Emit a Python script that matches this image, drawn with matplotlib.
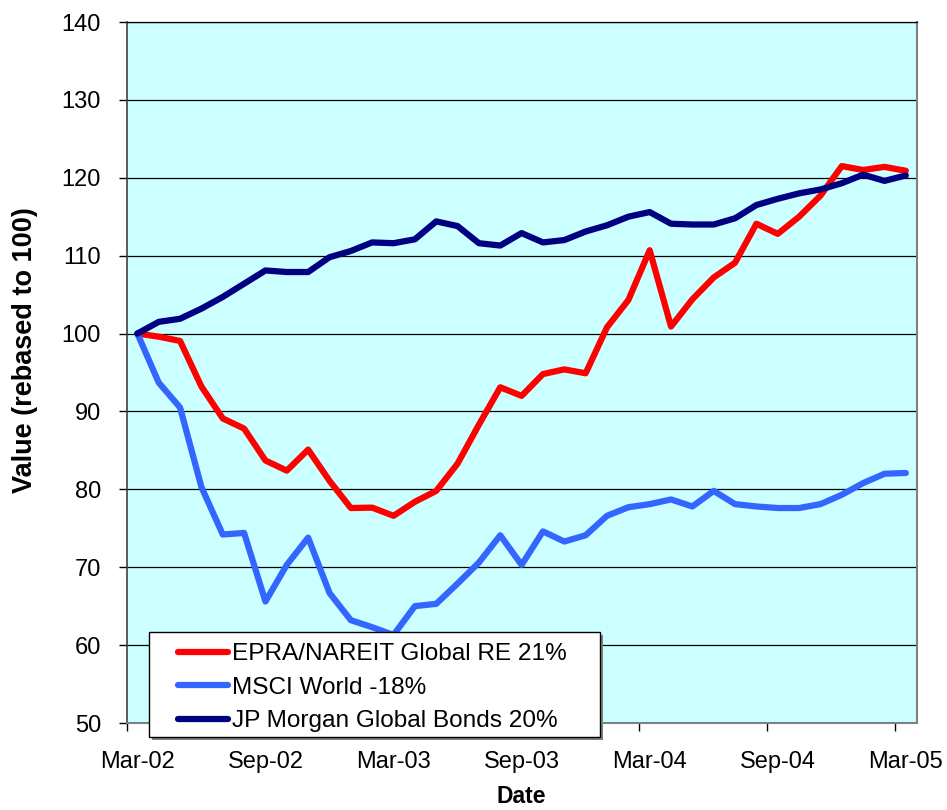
import matplotlib
matplotlib.use("Agg")
import matplotlib.pyplot as plt
from matplotlib.patches import Rectangle
import numpy as np

# ---- data ----
months = ["Mar-02", "Apr-02", "May-02", "Jun-02", "Jul-02", "Aug-02", "Sep-02", "Oct-02", "Nov-02",
          "Dec-02", "Jan-03", "Feb-03", "Mar-03", "Apr-03", "May-03", "Jun-03", "Jul-03", "Aug-03",
          "Sep-03", "Oct-03", "Nov-03", "Dec-03", "Jan-04", "Feb-04", "Mar-04", "Apr-04", "May-04",
          "Jun-04", "Jul-04", "Aug-04", "Sep-04", "Oct-04", "Nov-04", "Dec-04", "Jan-05", "Feb-05",
          "Mar-05"]
tick_labels = ["Mar-02", "Sep-02", "Mar-03", "Sep-03", "Mar-04", "Sep-04", "Mar-05"]

epra = [100, 99.6, 99.05, 93.2, 89.1, 87.8, 83.7, 82.4, 85.1, 81.1, 77.6, 77.65, 76.6,
        78.4, 79.8, 83.3, 88.3, 93.1, 92.0, 94.8, 95.4, 94.9, 100.8, 104.3, 110.7, 100.9,
        104.4, 107.2, 109.1, 114.1, 112.8, 115.0, 117.7, 121.5, 121.0, 121.4, 120.9]
msci = [100, 93.7, 90.5, 80.3, 74.2, 74.4, 65.6, 70.3, 73.8, 66.7, 63.2, 62.3, 61.3,
        65.0, 65.3, 67.9, 70.6, 74.1, 70.3, 74.6, 73.3, 74.1, 76.6, 77.7, 78.1, 78.7,
        77.8, 79.8, 78.1, 77.8, 77.6, 77.6, 78.1, 79.3, 80.8, 82.0, 82.1]
jpm = [100, 101.5, 101.9, 103.2, 104.7, 106.4, 108.1, 107.9, 107.9, 109.8, 110.6, 111.7, 111.6,
       112.1, 114.4, 113.8, 111.6, 111.3, 112.9, 111.7, 112.0, 113.1, 113.9, 115.0, 115.6, 114.1,
       114.0, 114.0, 114.8, 116.5, 117.3, 118.0, 118.5, 119.3, 120.4, 119.6, 120.3]

series_names = ["EPRA/NAREIT Global RE 21%", "MSCI World -18%", "JP Morgan Global Bonds 20%"]
series_colors = ["#FF0000", "#3366FF", "#000080"]

plt.rcParams['font.family'] = ['Liberation Sans', 'DejaVu Sans']

W, H = 947, 810
ax_l, ax_r, ax_t, ax_b = 126.7, 916.5, 22, 723
fig = plt.figure(figsize=(W / 100, H / 100), dpi=100)
ax = fig.add_axes([ax_l / W, 1 - ax_b / H, (ax_r - ax_l) / W, (ax_b - ax_t) / H])
ax.set_facecolor("#CCFFFF")

x = np.arange(len(months))
lines = []
for vals, name, col in zip([epra, msci, jpm], series_names, series_colors):
    ln, = ax.plot(x, vals, color=col, lw=4.5, solid_joinstyle='round',
                  solid_capstyle='round', label=name, zorder=3)
    lines.append(ln)

ax.set_xlim(-0.5, len(months) - 0.5)
ax.set_ylim(50, 140)
ax.set_yticks(np.arange(50, 141, 10))
ax.yaxis.grid(True, color="black", lw=0.9)
ax.set_axisbelow(True)

# major ticks at category boundaries (every 6 months), labels at category centres
ax.set_xticks(np.arange(-0.5, len(months), 6))
ax.set_xticklabels([])
label_pos = [months.index(t) for t in tick_labels]
ax.set_xticks(label_pos, minor=True)
ax.set_xticklabels(tick_labels, minor=True)
ax.tick_params(axis='x', which='major', direction='out', length=6, width=1, color='black')
ax.tick_params(axis='x', which='minor', length=0, pad=20, labelsize=17)
ax.tick_params(axis='y', direction='out', length=6, width=1, color='black', pad=12.5, labelsize=17)

for s in ["top", "right", "bottom"]:
    ax.spines[s].set_color("#808080")
    ax.spines[s].set_linewidth(1.5)
ax.spines["left"].set_color("#404040")
ax.spines["left"].set_linewidth(1.2)
ax.spines["top"].set_color("black")
ax.spines["top"].set_linewidth(0.9)

ax.set_xlabel("Date", fontsize=16.5, fontweight='bold')
ax.xaxis.set_label_coords(0.5, (ax_b - 785) / (ax_b - ax_t))
ax.set_ylabel("Value (rebased to 100)", fontsize=19.5, fontweight='bold')
ax.yaxis.set_label_coords((38 - ax_l) / (ax_r - ax_l), (ax_b - 350) / (ax_b - ax_t))

# legend box with shadow
lx0, ly0, lx1, ly1 = 149, 632, 600, 737
fig.patches.append(Rectangle(((lx0 + 3) / W, 1 - (ly1 + 3) / H), (lx1 - lx0) / W, (ly1 - ly0) / H,
                             transform=fig.transFigure, facecolor="#808080", edgecolor='none', zorder=5))
fig.patches.append(Rectangle((lx0 / W, 1 - ly1 / H), (lx1 - lx0) / W, (ly1 - ly0) / H,
                             transform=fig.transFigure, facecolor="white", edgecolor='black', lw=1, zorder=6))
leg = fig.legend(handles=lines, loc='upper left', bbox_to_anchor=(178 / W, 1 - 643 / H),
                 frameon=False, fontsize=17.6, handlelength=2.05, handletextpad=0.17,
                 labelspacing=0.47, borderpad=0, borderaxespad=0)
leg.set_zorder(7)
for l in leg.get_lines():
    l.set_linewidth(4.5)
    l.set_solid_capstyle('round')

fig.savefig("out.png", dpi=100)
